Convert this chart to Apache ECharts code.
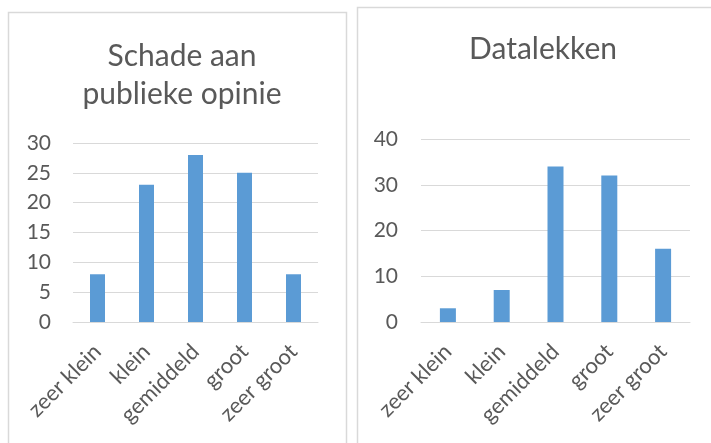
<!DOCTYPE html>
<html>
<head>
<meta charset="utf-8">
<script src="https://cdn.jsdelivr.net/npm/echarts@6/dist/echarts.min.js"></script>
<style>
  html, body { margin: 0; padding: 0; background: #fff; }
  #main { width: 711px; height: 443px; }
</style>
</head>
<body>
<div id="main"></div>
<script>
// categorieën en waarden
var categories = ["zeer klein", "klein", "gemiddeld", "groot", "zeer groot"];
var schadeValues = [8, 23, 28, 25, 8];
var datalekValues = [3, 7, 34, 32, 16];
var titles = ["Schade aan\npublieke opinie", "Datalekken"];

var myChart = echarts.init(document.getElementById("main"));

var textColor = "#595959";
var font = "Lato, 'Open Sans', sans-serif";

function xAxis(gridIndex) {
  return {
    type: "category",
    gridIndex: gridIndex,
    data: categories,
    axisLine: { lineStyle: { color: "#D9D9D9", width: 1 } },
    axisTick: { show: false },
    axisLabel: {
      rotate: 45,
      interval: 0,
      margin: 26,
      color: textColor,
      fontSize: 22,
      fontFamily: font
    }
  };
}

function yAxis(gridIndex, max, interval, margin) {
  return {
    type: "value",
    gridIndex: gridIndex,
    min: 0,
    max: max,
    interval: interval,
    axisLine: { show: false },
    axisTick: { show: false },
    splitLine: { lineStyle: { color: "#D9D9D9", width: 1 } },
    axisLabel: {
      margin: margin,
      color: textColor,
      fontSize: 21,
      fontFamily: font
    }
  };
}

var option = {
  backgroundColor: "#fff",
  animation: false,
  graphic: [
    {
      type: "rect",
      shape: { x: 8.5, y: 12.5, width: 338, height: 440 },
      style: { fill: "none", stroke: "#D9D9D9", lineWidth: 1.5 }
    },
    {
      type: "rect",
      shape: { x: 357.5, y: 7.5, width: 360, height: 445 },
      style: { fill: "none", stroke: "#D9D9D9", lineWidth: 1.5 }
    }
  ],
  title: [
    {
      text: titles[0],
      left: 177,
      top: 32,
      textAlign: "center",
      textStyle: { color: textColor, fontSize: 30, fontWeight: "normal", fontFamily: font, lineHeight: 38 }
    },
    {
      text: titles[1],
      left: 538,
      top: 25,
      textAlign: "center",
      textStyle: { color: textColor, fontSize: 30, fontWeight: "normal", fontFamily: font, lineHeight: 38 }
    }
  ],
  grid: [
    { left: 73, top: 143, width: 245, height: 179 },
    { left: 421, top: 139, width: 269, height: 183 }
  ],
  xAxis: [xAxis(0), xAxis(1)],
  yAxis: [yAxis(0, 30, 5, 22), yAxis(1, 40, 10, 23)],
  series: [
    {
      name: titles[0],
      type: "bar",
      xAxisIndex: 0,
      yAxisIndex: 0,
      data: schadeValues,
      barWidth: 15,
      itemStyle: { color: "#5B9BD5" }
    },
    {
      name: titles[1],
      type: "bar",
      xAxisIndex: 1,
      yAxisIndex: 1,
      data: datalekValues,
      barWidth: 16,
      itemStyle: { color: "#5B9BD5" }
    }
  ]
};

myChart.setOption(option);
</script>
</body>
</html>
